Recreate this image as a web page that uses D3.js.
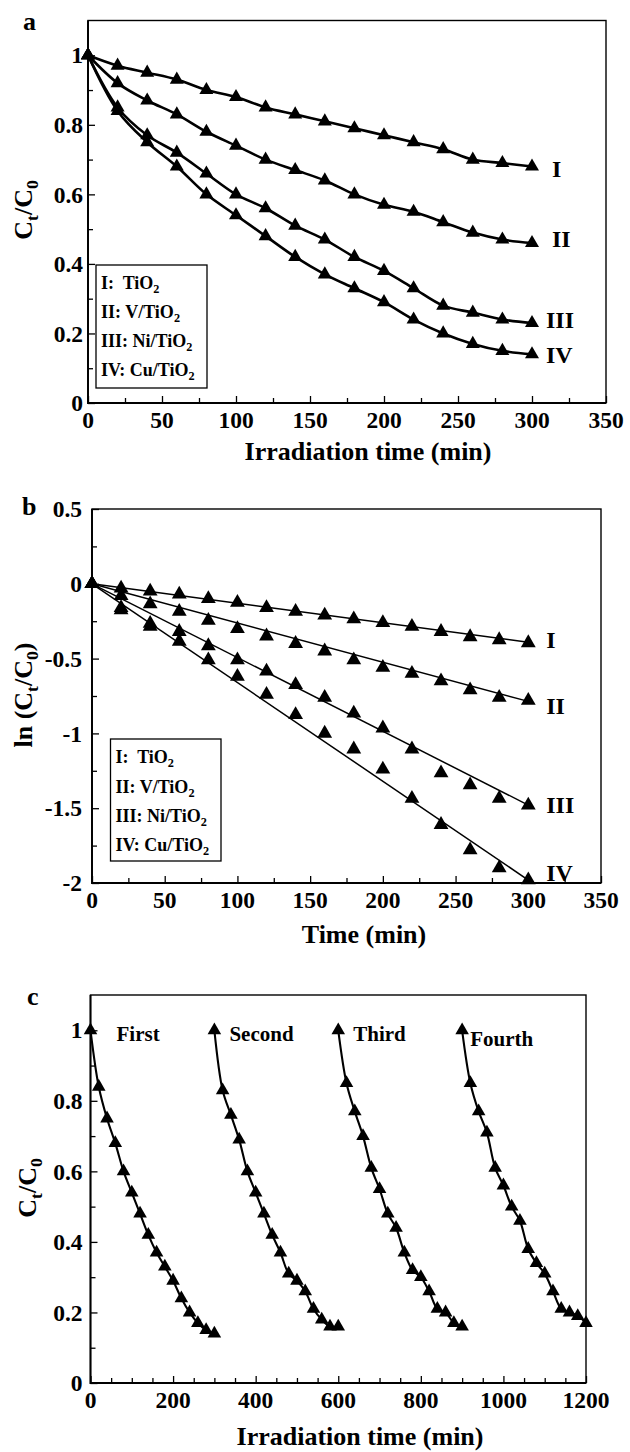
<!DOCTYPE html>
<html>
<head>
<meta charset="utf-8">
<script src="https://cdn.jsdelivr.net/npm/d3@7"></script>
<style>
  body { margin: 0; background: #fff; }
  svg text { font-family: "Liberation Serif", "Times New Roman", serif; font-weight: bold; fill: #000; white-space: pre; }
</style>
</head>
<body>
<svg id="fig" width="630" height="1452"></svg>
<script>
      // ---- data ----
      var time = [0, 20, 40, 60, 80, 100, 120, 140, 160, 180, 200, 220, 240, 260, 280, 300];
      var seriesNames = ['I', 'II', 'III', 'IV'];
      var legendLabels = ['I:  TiO2', 'II: V/TiO2', 'III: Ni/TiO2', 'IV: Cu/TiO2'];

      // (a) Ct/C0
      var ratioTiO2 = [1, 0.97, 0.95, 0.93, 0.90, 0.88, 0.85, 0.83, 0.81, 0.79, 0.77, 0.75, 0.73, 0.70, 0.69, 0.68];
      var ratioV    = [1, 0.92, 0.87, 0.83, 0.78, 0.74, 0.70, 0.67, 0.64, 0.60, 0.57, 0.55, 0.52, 0.49, 0.47, 0.46];
      var ratioNi   = [1, 0.85, 0.77, 0.72, 0.66, 0.60, 0.56, 0.51, 0.47, 0.42, 0.38, 0.33, 0.28, 0.26, 0.24, 0.23];
      var ratioCu   = [1, 0.84, 0.75, 0.68, 0.60, 0.54, 0.48, 0.42, 0.37, 0.33, 0.29, 0.24, 0.20, 0.17, 0.15, 0.14];

      // (b) ln(Ct/C0) and fitted slopes
      var lnTiO2 = [0, -0.03, -0.05, -0.07, -0.10, -0.125, -0.16, -0.185, -0.21, -0.235, -0.26, -0.285, -0.32, -0.355, -0.375, -0.395];
      var lnV    = [0, -0.08, -0.135, -0.185, -0.245, -0.30, -0.35, -0.40, -0.45, -0.51, -0.56, -0.60, -0.65, -0.71, -0.76, -0.78];
      var lnNi   = [0, -0.16, -0.265, -0.32, -0.415, -0.51, -0.585, -0.675, -0.76, -0.865, -0.965, -1.105, -1.265, -1.345, -1.435, -1.48];
      var lnCu   = [0, -0.175, -0.285, -0.385, -0.51, -0.62, -0.74, -0.875, -1.0, -1.105, -1.24, -1.435, -1.61, -1.78, -1.90, -1.98];
      var fitSlope = [-0.0013, -0.00262, -0.00493, -0.0066];

      // (c) reuse runs
      var runNames = ['First', 'Second', 'Third', 'Fourth'];
      var runStart = [0, 300, 600, 900];
      var run1 = [1, 0.84, 0.75, 0.68, 0.60, 0.54, 0.48, 0.42, 0.37, 0.33, 0.29, 0.24, 0.20, 0.17, 0.15, 0.14];
      var run2 = [1, 0.83, 0.76, 0.69, 0.60, 0.54, 0.48, 0.42, 0.37, 0.31, 0.29, 0.26, 0.21, 0.18, 0.16, 0.16];
      var run3 = [1, 0.85, 0.77, 0.70, 0.61, 0.55, 0.48, 0.44, 0.37, 0.32, 0.30, 0.26, 0.21, 0.20, 0.17, 0.16];
      var run4 = [1, 0.85, 0.77, 0.71, 0.61, 0.56, 0.50, 0.46, 0.38, 0.34, 0.31, 0.26, 0.21, 0.20, 0.19, 0.17];

      // ticks
      var xMajorAB = [0, 50, 100, 150, 200, 250, 300, 350];
      var xMinorAB = [25, 75, 125, 175, 225, 275, 325];
      var yMajorA = [0, 0.2, 0.4, 0.6, 0.8, 1];
      var yMinorA = [0.1, 0.3, 0.5, 0.7, 0.9];
      var yMajorB = [0.5, 0, -0.5, -1, -1.5, -2];
      var yMinorB = [0.25, -0.25, -0.75, -1.25, -1.75];
      var xMajorC = [0, 200, 400, 600, 800, 1000, 1200];
      var xMinorC = [50, 100, 150, 250, 300, 350, 450, 500, 550, 650, 700, 750, 850, 900, 950, 1050, 1100, 1150];


      var svg = d3.select('#fig');
      var tickFont = 23.5, titleFont = 26;

      // text with a subscript, parts = [[str, isSub], ...]
      function richText(t, parts, size) {
        var shift = size * 0.22;
        var down = false;
        parts.forEach(function(p) {
          var s = t.append('tspan').text(p[0]);
          if (p[1]) { s.attr('font-size', size * 0.68).attr('dy', shift); down = true; }
          else if (down) { s.attr('dy', -shift); down = false; }
        });
        return t;
      }

      // frame, inward ticks, tick labels
      function makePanel(p) {
        var x = d3.scaleLinear().domain(p.xDomain).range([p.left, p.right]);
        var y = d3.scaleLinear().domain(p.yDomain).range([p.bottom, p.top]);
        var g = svg.append('g');

        g.append('rect')
          .attr('x', p.left).attr('y', p.top)
          .attr('width', p.right - p.left).attr('height', p.bottom - p.top)
          .attr('fill', 'none').attr('stroke', '#000').attr('stroke-width', 1.4);

        function ticks(axis, tr) {
          var a = g.append('g').attr('transform', tr).call(axis);
          a.select('.domain').remove();
          a.selectAll('line').attr('stroke', '#000').attr('stroke-width', 1.3);
        }
        ticks(d3.axisBottom(x).tickValues(p.xMinor).tickSize(-5).tickFormat(''), 'translate(0,' + p.bottom + ')');
        ticks(d3.axisBottom(x).tickValues(p.xMajor).tickSize(-7).tickFormat(''), 'translate(0,' + p.bottom + ')');
        ticks(d3.axisLeft(y).tickValues(p.yMinor).tickSize(-5).tickFormat(''), 'translate(' + p.left + ',0)');
        ticks(d3.axisLeft(y).tickValues(p.yMajor).tickSize(-7).tickFormat(''), 'translate(' + p.left + ',0)');

        // heavier left/bottom spines
        g.append('path')
          .attr('d', 'M' + p.left + ',' + p.top + 'V' + p.bottom + 'H' + p.right)
          .attr('fill', 'none').attr('stroke', '#000').attr('stroke-width', 1.9);

        g.selectAll('.xl').data(p.xMajor).enter().append('text')
          .attr('x', d => x(d)).attr('y', p.bottom + 25)
          .attr('text-anchor', 'middle').attr('font-size', tickFont)
          .text(d => String(d));
        g.selectAll('.yl').data(p.yMajor).enter().append('text')
          .attr('x', p.left - p.yLabelGap).attr('y', d => y(d)).attr('dy', '0.35em')
          .attr('text-anchor', 'end').attr('font-size', tickFont)
          .text(d => String(d));

        g.append('text').attr('x', p.letter[0]).attr('y', p.letter[1])
          .attr('font-size', 26).text(p.name);

        g.append('text').attr('x', p.xTitle[0]).attr('y', p.xTitle[1])
          .attr('text-anchor', 'middle').attr('font-size', titleFont).text(p.xTitleText);

        richText(g.append('text')
          .attr('transform', 'translate(' + p.yTitle[0] + ',' + p.yTitle[1] + ') rotate(-90)')
          .attr('text-anchor', 'middle').attr('dy', '0.35em').attr('font-size', titleFont),
          p.yTitleParts, titleFont);

        return { g: g, x: x, y: y };
      }

      function triangles(g, pts, x, y, size) {
        g.selectAll(null).data(pts).enter().append('path')
          .attr('d', d3.symbol(d3.symbolTriangle, size))
          .attr('transform', d => 'translate(' + x(d[0]) + ',' + y(d[1]) + ')')
          .attr('fill', '#000');
      }

      function legend(g, box, lineY) {
        g.append('rect').attr('x', box[0]).attr('y', box[1]).attr('width', box[2]).attr('height', box[3])
          .attr('fill', '#fff').attr('stroke', '#000').attr('stroke-width', 1.3);
        legendLabels.forEach(function(s, i) {
          richText(g.append('text').attr('x', box[0] + 5).attr('y', lineY[i]).attr('font-size', 18),
            [[s.slice(0, -1), false], [s.slice(-1), true]], 18);
        });
      }

      var smooth = d3.line().curve(d3.curveCatmullRom.alpha(0.5));


      // ---- panel a ----
      var pa = makePanel({
        name: 'a', left: 88, right: 606, top: 20.5, bottom: 403,
        xDomain: [0, 350], yDomain: [0, 1.1],
        xMajor: xMajorAB, xMinor: xMinorAB, yMajor: yMajorA, yMinor: yMinorA,
        yLabelGap: 5, letter: [23, 30],
        xTitle: [368, 460], xTitleText: 'Irradiation time (min)',
        yTitle: [23, 210], yTitleParts: [['C', false], ['t', true], ['/C', false], ['0', true]]
      });
      legend(pa.g, [96, 265, 111, 123], [289, 318, 347, 376]);
      var ratioSeries = [ratioTiO2, ratioV, ratioNi, ratioCu];
      var labelA = [[20, 10], [20, 4], [14, 5], [14, 9]];
      ratioSeries.forEach(function(vals, i) {
        var pts = time.map((t, j) => [t, vals[j]]);
        pa.g.append('path')
          .attr('d', smooth(pts.map(d => [pa.x(d[0]), pa.y(d[1])])))
          .attr('fill', 'none').attr('stroke', '#000').attr('stroke-width', 2.6);
        triangles(pa.g, pts, pa.x, pa.y, 85);
        var last = pts[pts.length - 1];
        pa.g.append('text')
          .attr('x', pa.x(last[0]) + labelA[i][0]).attr('y', pa.y(last[1]) + labelA[i][1])
          .attr('font-size', 24).text(seriesNames[i]);
      });


      // ---- panel b ----
      var pb = makePanel({
        name: 'b', left: 92, right: 601, top: 509, bottom: 883,
        xDomain: [0, 350], yDomain: [-2, 0.5],
        xMajor: xMajorAB, xMinor: xMinorAB, yMajor: yMajorB, yMinor: yMinorB,
        yLabelGap: 10, letter: [22, 515],
        xTitle: [364, 943], xTitleText: 'Time (min)',
        yTitle: [23, 695], yTitleParts: [['ln (C', false], ['t', true], ['/C', false], ['0', true], [')', false]]
      });
      legend(pb.g, [110.5, 739, 110.5, 122], [763, 793, 822, 851]);
      var lnSeries = [lnTiO2, lnV, lnNi, lnCu];
      var labelB = [[18, 5], [18, 14], [18, 8], [18, 1]];
      lnSeries.forEach(function(vals, i) {
        var pts = time.map((t, j) => [t, vals[j]]);
        var t0 = time[0], t1 = time[time.length - 1];
        pb.g.append('line')
          .attr('x1', pb.x(t0)).attr('y1', pb.y(fitSlope[i] * t0))
          .attr('x2', pb.x(t1)).attr('y2', pb.y(fitSlope[i] * t1))
          .attr('stroke', '#000').attr('stroke-width', 1.5);
        triangles(pb.g, pts, pb.x, pb.y, 95);
        var last = pts[pts.length - 1];
        pb.g.append('text')
          .attr('x', pb.x(last[0]) + labelB[i][0]).attr('y', pb.y(last[1]) + labelB[i][1])
          .attr('font-size', 24).text(seriesNames[i]);
      });


      // ---- panel c ----
      var pc = makePanel({
        name: 'c', left: 90.5, right: 586, top: 995, bottom: 1383,
        xDomain: [0, 1200], yDomain: [0, 1.1],
        xMajor: xMajorC, xMinor: xMinorC, yMajor: yMajorA, yMinor: yMinorA,
        yLabelGap: 8, letter: [27, 1005],
        xTitle: [360, 1445], xTitleText: 'Irradiation time (min)',
        yTitle: [27, 1188], yTitleParts: [['C', false], ['t', true], ['/C', false], ['0', true]]
      });
      var runs = [run1, run2, run3, run4];
      var labelC = [[26, 11], [15, 11], [15, 11], [8, 16]];
      runs.forEach(function(vals, i) {
        var pts = time.map((t, j) => [runStart[i] + t, vals[j]]);
        pc.g.append('path')
          .attr('d', smooth(pts.map(d => [pc.x(d[0]), pc.y(d[1])])))
          .attr('fill', 'none').attr('stroke', '#000').attr('stroke-width', 2.1);
        triangles(pc.g, pts, pc.x, pc.y, 80);
        pc.g.append('text')
          .attr('x', pc.x(pts[0][0]) + labelC[i][0]).attr('y', pc.y(pts[0][1]) + labelC[i][1])
          .attr('font-size', 21).text(runNames[i]);
      });
</script>
</body>
</html>
